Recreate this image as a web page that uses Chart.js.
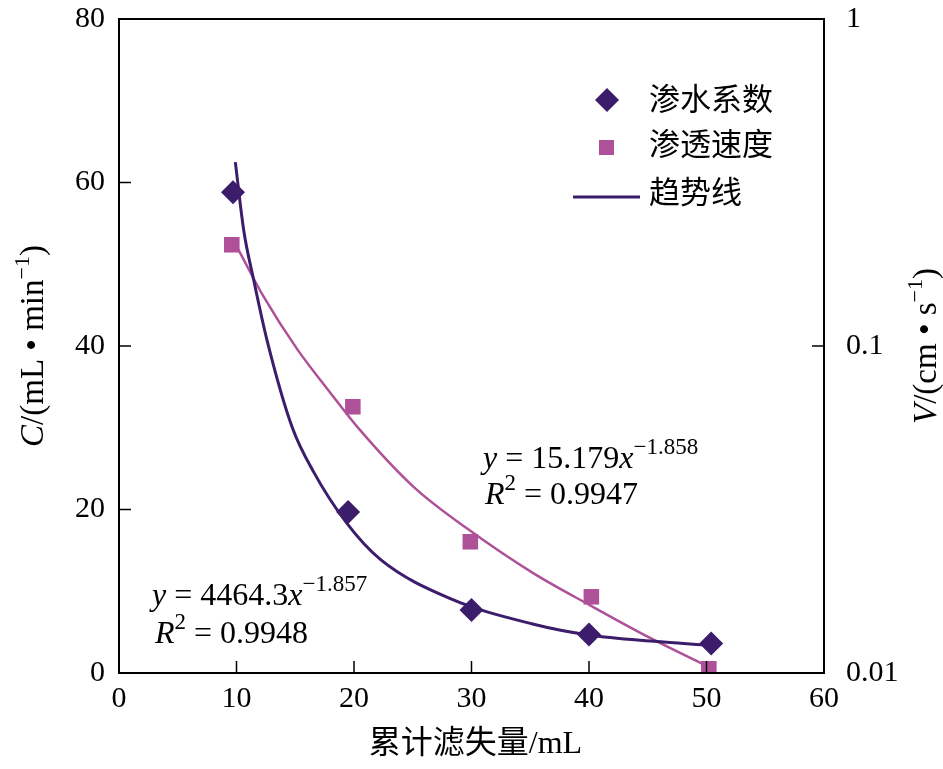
<!DOCTYPE html>
<html>
<head>
<meta charset="utf-8">
<script src="https://cdn.jsdelivr.net/npm/chart.js@4.4.1/dist/chart.umd.min.js"></script>
<style>
  html, body { margin: 0; padding: 0; background: #fff; }
  #wrap { width: 943px; height: 769px; }
</style>
</head>
<body>
<div id="wrap"><canvas id="chart" width="943" height="769"></canvas></div>
<script>
// --- axis ticks ---
const xTicks = [0, 10, 20, 30, 40, 50, 60];
const cTicks = [0, 20, 40, 60, 80];
const vTicks = [0.01, 0.1, 1];

const coefX = [9.7, 19.5, 30.0, 40.0, 50.4];
const coefC = [58.8, 19.7, 7.7, 4.7, 3.6];
const speedX = [9.6, 19.9, 29.9, 40.2, 50.2];
const speedV = [0.204, 0.0652, 0.0252, 0.0171, 0.0103];

// --- trend lines, points ---
const coefTrendX = [9.9, 10.61, 11.46, 12.6, 14.73, 16.56, 19.4, 22.24, 28.2, 35.2, 40.0, 45.2, 50.3];
const coefTrendC = [62.5, 54.2, 48.1, 40.7, 30.1, 24.6, 18.3, 13.9, 9.1, 6.0, 4.65, 3.9, 3.4];
const speedTrendX = [9.7, 10.33, 12.31, 15.15, 17.98, 20.39, 25.07, 29.6, 35.25, 40.1, 45.2, 49.87];
const speedTrendV = [0.212, 0.192, 0.1415, 0.098, 0.072, 0.056, 0.0371, 0.0277, 0.0202, 0.0161, 0.0128, 0.01057];

const DARK = '#3c1d6b';
const PINK = '#ae5198';
const SERIF = '"Liberation Serif", "Times New Roman", serif';
const CJK = '"Liberation Serif", "Noto Sans CJK SC", sans-serif';

const pts = (xs, ys) => xs.map((x, i) => ({ x, y: ys[i] }));

// draw a run of text pieces: [text, style] with style '' | 'i' (italic) | 's' (superscript)
function richWidth(ctx, parts, size, supSize) {
  let w = 0;
  parts.forEach(([t, st]) => {
    ctx.font = (st === 'i' ? 'italic ' : '') + (st === 's' ? supSize : size) + 'px ' + SERIF;
    w += ctx.measureText(t).width;
  });
  return w;
}

function drawRich(ctx, parts, x, y, size, supSize, rise, align) {
  let cx = align === 'center' ? x - richWidth(ctx, parts, size, supSize) / 2 : x;
  ctx.textAlign = 'left';
  ctx.textBaseline = 'alphabetic';
  parts.forEach(([t, st]) => {
    ctx.font = (st === 'i' ? 'italic ' : '') + (st === 's' ? supSize : size) + 'px ' + SERIF;
    ctx.fillText(t, cx, st === 's' ? y - rise : y);
    cx += ctx.measureText(t).width;
  });
}

// no overflow padding from tick labels, so the plot box lands where the layout says
const noPad = s => { s.paddingTop = 0; s.paddingBottom = 0; s.paddingLeft = 0; s.paddingRight = 0; };

const decor = {
  id: 'decor',
  afterDraw(chart) {
    const { ctx, chartArea: a, scales } = chart;
    ctx.save();
    ctx.fillStyle = '#000';
    ctx.strokeStyle = '#000';

    // frame
    ctx.lineWidth = 2;
    ctx.strokeRect(a.left, a.top, a.right - a.left, a.bottom - a.top);

    // inward tick marks
    ctx.lineWidth = 1.5;
    ctx.beginPath();
    xTicks.slice(1, -1).forEach(v => {
      const px = scales.x.getPixelForValue(v);
      ctx.moveTo(px, a.bottom); ctx.lineTo(px, a.bottom - 12);
    });
    cTicks.slice(1, -1).forEach(v => {
      const py = scales.y.getPixelForValue(v);
      ctx.moveTo(a.left, py); ctx.lineTo(a.left + 12, py);
    });
    vTicks.slice(1, -1).forEach(v => {
      const py = scales.y2.getPixelForValue(v);
      ctx.moveTo(a.right, py); ctx.lineTo(a.right - 12, py);
    });
    ctx.stroke();

    // legend
    ctx.fillStyle = DARK;
    ctx.beginPath();
    ctx.moveTo(607, 88); ctx.lineTo(619, 100); ctx.lineTo(607, 112); ctx.lineTo(595, 100);
    ctx.closePath(); ctx.fill();
    ctx.fillStyle = PINK;
    ctx.fillRect(599, 140, 15, 15);
    ctx.strokeStyle = DARK;
    ctx.lineWidth = 3;
    ctx.beginPath(); ctx.moveTo(573, 197); ctx.lineTo(640, 197); ctx.stroke();

    ctx.fillStyle = '#000';
    ctx.font = '31px ' + CJK;
    ctx.textAlign = 'left';
    ctx.textBaseline = 'middle';
    ctx.fillText('渗水系数', 649, 102);
    ctx.fillText('渗透速度', 649, 147);
    ctx.fillText('趋势线', 649, 195);

    // fitted equations
    drawRich(ctx, [['y', 'i'], [' = 15.179', ''], ['x', 'i'], ['\u22121.858', 's']], 483, 468, 32, 23, 14);
    drawRich(ctx, [['R', 'i'], ['2', 's'], [' = 0.9947', '']], 485, 504, 32, 23, 14);
    drawRich(ctx, [['y', 'i'], [' = 4464.3', ''], ['x', 'i'], ['\u22121.857', 's']], 152, 605, 32, 23, 14);
    drawRich(ctx, [['R', 'i'], ['2', 's'], [' = 0.9948', '']], 155, 643, 32, 23, 14);

    // axis titles
    ctx.font = '32px ' + CJK;
    ctx.textAlign = 'center';
    ctx.textBaseline = 'middle';
    ctx.fillText('累计滤失量/mL', (a.left + a.right) / 2 + 4, 745);

    const midY = (a.top + a.bottom) / 2;
    ctx.save();
    ctx.translate(32, midY);
    ctx.rotate(-Math.PI / 2);
    drawRich(ctx, [['C', 'i'], ['/(mL \u2022 min', ''], ['\u22121', 's'], [')', '']], 0, 11, 33, 22, 14, 'center');
    ctx.restore();

    ctx.save();
    ctx.translate(925, midY);
    ctx.rotate(-Math.PI / 2);
    drawRich(ctx, [['V', 'i'], ['/(cm \u2022 s', ''], ['\u22121', 's'], [')', '']], 0, 11, 33, 22, 14, 'center');
    ctx.restore();

    ctx.restore();
  }
};

const tickFont = { family: SERIF, size: 30 };

new Chart(document.getElementById('chart'), {
  type: 'scatter',
  data: {
    datasets: [
      {
        label: '渗水系数',
        data: pts(coefX, coefC),
        yAxisID: 'y',
        pointStyle: 'rectRot',
        pointRadius: 12,
        backgroundColor: DARK,
        borderColor: DARK,
        borderWidth: 0
      },
      {
        label: '渗透速度',
        data: pts(speedX, speedV),
        yAxisID: 'y2',
        pointStyle: 'rect',
        pointRadius: 11,
        backgroundColor: PINK,
        borderColor: PINK,
        borderWidth: 0
      },
      {
        label: '趋势线',
        type: 'line',
        data: pts(coefTrendX, coefTrendC),
        yAxisID: 'y',
        borderColor: DARK,
        borderWidth: 3,
        pointRadius: 0,
        cubicInterpolationMode: 'monotone',
        fill: false
      },
      {
        label: '趋势线2',
        type: 'line',
        data: pts(speedTrendX, speedTrendV),
        yAxisID: 'y2',
        borderColor: PINK,
        borderWidth: 2.5,
        pointRadius: 0,
        cubicInterpolationMode: 'monotone',
        fill: false
      }
    ]
  },
  options: {
    responsive: false,
    animation: false,
    devicePixelRatio: 1,
    layout: { padding: { top: 19, left: 0, right: 0, bottom: 0 } },
    plugins: { legend: { display: false }, tooltip: { enabled: false } },
    scales: {
      x: {
        type: 'linear',
        min: 0, max: 60,
        afterBuildTicks: s => { s.ticks = xTicks.map(v => ({ value: v })); },
        afterFit: s => { s.height = 96; noPad(s); },
        grid: { display: false, drawTicks: false },
        border: { display: false },
        ticks: { font: tickFont, color: '#000', padding: 8, maxRotation: 0 }
      },
      y: {
        type: 'linear',
        position: 'left',
        min: 0, max: 80,
        afterBuildTicks: s => { s.ticks = cTicks.map(v => ({ value: v })); },
        afterFit: s => { s.width = 119; noPad(s); },
        grid: { display: false, drawTicks: false },
        border: { display: false },
        ticks: { font: tickFont, color: '#000', padding: 14 }
      },
      y2: {
        type: 'logarithmic',
        position: 'right',
        min: 0.01, max: 1,
        afterBuildTicks: s => { s.ticks = vTicks.map(v => ({ value: v })); },
        afterFit: s => { s.width = 119; noPad(s); },
        grid: { display: false, drawTicks: false },
        border: { display: false },
        ticks: { font: tickFont, color: '#000', padding: 22, callback: v => String(v) }
      }
    }
  },
  plugins: [decor]
});
</script>
</body>
</html>
